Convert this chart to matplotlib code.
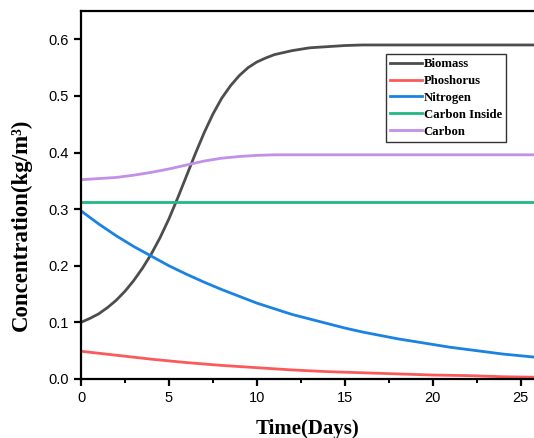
import numpy as np
import matplotlib
matplotlib.use('Agg')
import matplotlib.pyplot as plt
import matplotlib as mpl

mpl.rcParams['font.family'] = ['Liberation Sans', 'DejaVu Sans']
mpl.rcParams['axes.linewidth'] = 1.6
mpl.rcParams['xtick.major.width'] = 1.6
mpl.rcParams['ytick.major.width'] = 1.6
mpl.rcParams['xtick.minor.width'] = 1.4
mpl.rcParams['xtick.major.size'] = 5
mpl.rcParams['ytick.major.size'] = 5
mpl.rcParams['xtick.minor.size'] = 3

# time axis (days)
t_bio = [0, 0.5, 1, 1.5, 2, 2.5, 3, 3.5, 4, 4.5, 5, 5.5, 6, 6.5, 7, 7.5, 8, 8.5, 9, 9.5,
         10, 10.5, 11, 12, 13, 14, 15, 16, 20, 26]
biomass = [0.100, 0.107, 0.115, 0.126, 0.139, 0.155, 0.174, 0.196, 0.221, 0.250, 0.283,
           0.320, 0.359, 0.398, 0.435, 0.468, 0.496, 0.518, 0.536, 0.550,
           0.560, 0.567, 0.573, 0.580, 0.585, 0.587, 0.589, 0.590, 0.590, 0.590]

t_n = list(range(0, 27))
nitrogen = [0.297, 0.274, 0.253, 0.234, 0.217, 0.200, 0.185, 0.171, 0.158, 0.146, 0.134,
            0.124, 0.114, 0.106, 0.098, 0.090, 0.083, 0.077, 0.071, 0.066, 0.061,
            0.056, 0.052, 0.048, 0.044, 0.041, 0.038]

t_p = [0, 2, 4, 6, 8, 10, 12, 14, 16, 18, 20, 22, 24, 26]
phosphorus = [0.049, 0.042, 0.035, 0.029, 0.024, 0.020, 0.016, 0.013, 0.011, 0.009, 0.007, 0.006, 0.004, 0.003]

t_c = [0, 1, 2, 3, 4, 5, 6, 7, 8, 9, 10, 11, 12, 14, 16, 20, 26]
carbon = [0.352, 0.354, 0.356, 0.360, 0.365, 0.371, 0.378, 0.385, 0.390, 0.393, 0.395,
          0.396, 0.396, 0.396, 0.396, 0.396, 0.396]

t_ci = [0, 26]
carbon_inside = [0.313, 0.313]

fig = plt.figure(figsize=(5.34, 4.38), dpi=100)
ax = fig.add_axes([81 / 534, 59 / 438, 453 / 534, 368 / 438])

ax.plot(t_bio, biomass, color='#4d4d4d', lw=2.0, label='Biomass')
ax.plot(t_p, phosphorus, color='#fa5a5a', lw=2.0, label='Phoshorus')
ax.plot(t_n, nitrogen, color='#1a82e2', lw=2.0, label='Nitrogen')
ax.plot(t_ci, carbon_inside, color='#22b884', lw=2.0, label='Carbon Inside')
ax.plot(t_c, carbon, color='#c290e8', lw=2.0, label='Carbon')

ax.set_xlim(0, 25.75)
ax.set_ylim(0, 0.65)
ax.set_xticks([0, 5, 10, 15, 20, 25])
ax.set_xticks(np.arange(2.5, 26, 5), minor=True)
ax.set_yticks([0.0, 0.1, 0.2, 0.3, 0.4, 0.5, 0.6])
ax.set_yticklabels(['0.0', '0.1', '0.2', '0.3', '0.4', '0.5', '0.6'])
ax.tick_params(labelsize=10.5)
ax.spines['right'].set_visible(False)

ax.set_xlabel('Time(Days)', family='Liberation Serif', weight='bold', size=15)
ax.xaxis.set_label_coords(0.5, -0.11)
ax.set_ylabel('Concentration(kg/m³)', family='Liberation Serif', weight='bold', size=16.5)
ax.yaxis.set_label_coords(-0.108, 0.418)

leg = ax.legend(loc='upper left', bbox_to_anchor=(0.673, 0.882), frameon=True, fancybox=False,
                edgecolor='black', prop={'family': 'Liberation Serif', 'weight': 'bold', 'size': 9.2},
                handlelength=2.5, handletextpad=0.15, labelspacing=0.38, borderpad=0.3, borderaxespad=0)
leg.get_frame().set_linewidth(1.0)

fig.savefig('out.png', dpi=100)
